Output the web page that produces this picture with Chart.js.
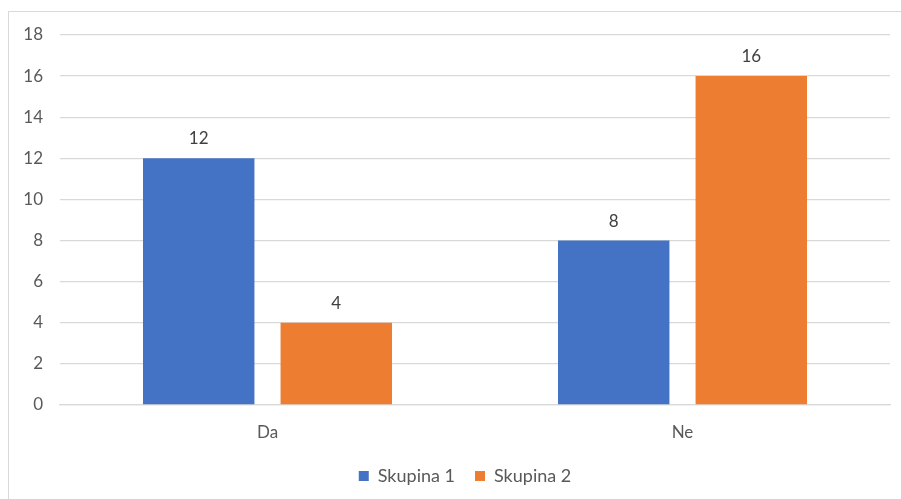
<!DOCTYPE html>
<html>
<head>
<meta charset="utf-8">
<script src="https://cdn.jsdelivr.net/npm/chart.js@4"></script>
<style>
  body { margin: 0; background: #fff; }
  #frame { position: absolute; left: 8px; top: 11px; width: 1000px; height: 600px; border: 1px solid #d9d9d9; }
  #wrap { position: absolute; left: 0; top: 0; width: 901px; height: 499px; }
</style>
</head>
<body>
<div id="frame"></div>
<div id="wrap"><canvas id="chart"></canvas></div>
<script>
// chart data
const categories = ['Da', 'Ne'];
const skupina1 = [12, 8];
const skupina2 = [4, 16];
const yTicks = [0, 2, 4, 6, 8, 10, 12, 14, 16, 18];

const textColor = '#595959';
const fontFamily = 'Lato, "Open Sans", sans-serif';

// draws the value above each bar
const valueLabels = {
  id: 'valueLabels',
  afterDatasetsDraw(chart) {
    const ctx = chart.ctx;
    ctx.save();
    ctx.fillStyle = '#404040';
    ctx.font = '17px ' + fontFamily;
    ctx.textAlign = 'center';
    ctx.textBaseline = 'bottom';
    chart.data.datasets.forEach((ds, i) => {
      chart.getDatasetMeta(i).data.forEach((bar, j) => {
        ctx.fillText(ds.data[j], bar.x, bar.y - 11);
      });
    });
    ctx.restore();
  }
};

// legend in the original sits a bit right of the canvas centre
const legendShift = {
  id: 'legendShift',
  afterLayout(chart) {
    if (chart.legend) {
      chart.legend.left += 20;
      chart.legend.right += 20;
    }
  }
};

new Chart(document.getElementById('chart'), {
  type: 'bar',
  data: {
    labels: categories,
    datasets: [
      { label: 'Skupina 1', data: skupina1, backgroundColor: '#4472C4' },
      { label: 'Skupina 2', data: skupina2, backgroundColor: '#ED7D31' }
    ]
  },
  options: {
    responsive: true,
    maintainAspectRatio: false,
    animation: false,
    categoryPercentage: 0.663,
    barPercentage: 0.81,
    layout: { padding: { top: 35, right: 11, left: 0, bottom: 4 } },
    scales: {
      y: {
        min: 0,
        max: 18,
        afterFit(scale) { scale.width = 60; },
        afterBuildTicks(scale) { scale.ticks = yTicks.map(v => ({ value: v })); },
        border: { display: false },
        grid: { color: '#d9d9d9', lineWidth: 1.3, drawTicks: false },
        ticks: { color: textColor, font: { family: fontFamily, size: 17 }, padding: 17 }
      },
      x: {
        afterFit(scale) { scale.height = 42; },
        border: { color: '#d9d9d9', width: 1.3 },
        grid: { display: false },
        ticks: { color: textColor, font: { family: fontFamily, size: 17 }, padding: 9 }
      }
    },
    plugins: {
      legend: {
        position: 'bottom',
        labels: {
          color: textColor,
          font: { family: fontFamily, size: 18 },
          boxWidth: 10,
          boxHeight: 10,
          padding: 20
        }
      },
      tooltip: { enabled: false }
    }
  },
  plugins: [valueLabels, legendShift]
});
</script>
</body>
</html>
